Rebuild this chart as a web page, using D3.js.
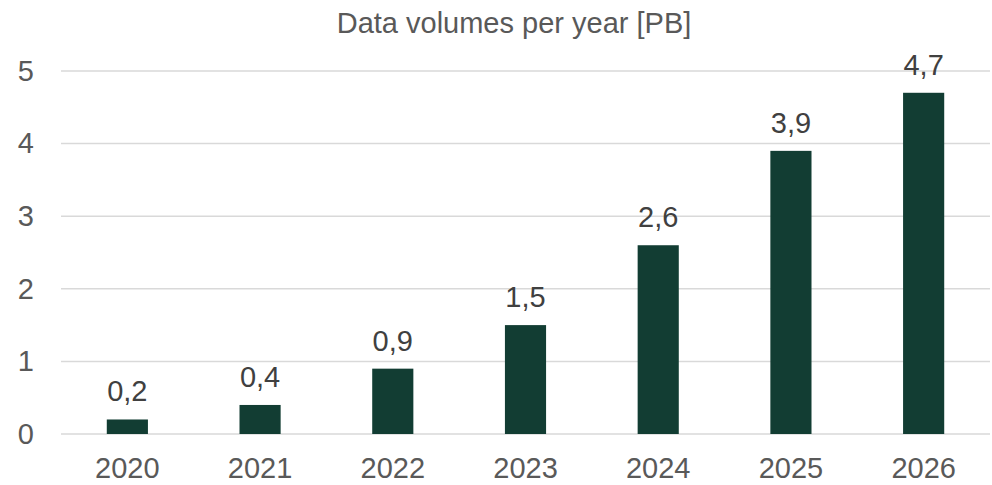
<!DOCTYPE html>
<html>
<head>
<meta charset="utf-8">
<script src="https://cdn.jsdelivr.net/npm/d3@7"></script>
<style>
  body { margin: 0; background: #fff; }
  text { font-family: "Liberation Sans", Arial, sans-serif; }
</style>
</head>
<body>
<div id="chart"></div>
<script>
// chart data
var years = ["2020", "2021", "2022", "2023", "2024", "2025", "2026"];
var volumes = [0.2, 0.4, 0.9, 1.5, 2.6, 3.9, 4.7];
var yTicks = [0, 1, 2, 3, 4, 5];
var title = "Data volumes per year [PB]";

var svgWidth = 992;
var svgHeight = 485;

// plot area
var margin = { top: 71, right: 2, bottom: 51, left: 61 };
var width = svgWidth - margin.left - margin.right;
var height = svgHeight - margin.top - margin.bottom;

var svg = d3.select("#chart")
  .append("svg")
  .attr("width", svgWidth)
  .attr("height", svgHeight);

var chartGroup = svg.append("g")
  .attr("transform", `translate(${margin.left}, ${margin.top})`);

var data = years.map((y, i) => ({ year: y, value: volumes[i] }));

var xScale = d3.scaleBand()
  .domain(years)
  .range([0, width])
  .paddingInner(0.69)
  .paddingOuter(0.345);

var yScale = d3.scaleLinear()
  .domain([0, 5])
  .range([height, 0]);

// gridlines
chartGroup.selectAll(".grid")
  .data(yTicks)
  .enter()
  .append("line")
  .attr("class", "grid")
  .attr("x1", 0)
  .attr("x2", width)
  .attr("y1", d => yScale(d))
  .attr("y2", d => yScale(d))
  .attr("stroke", "#d9d9d9")
  .attr("stroke-width", 1.5);

// y axis labels
var leftAxis = d3.axisLeft(yScale)
  .tickValues(yTicks)
  .tickFormat(d3.format("d"))
  .tickSize(0)
  .tickPadding(27);
var yAxis = chartGroup.append("g").call(leftAxis);
yAxis.select(".domain").remove();
yAxis.selectAll("text")
  .attr("font-family", "Liberation Sans, Arial, sans-serif")
  .attr("font-size", 29)
  .attr("fill", "#595959");

// x axis labels
var bottomAxis = d3.axisBottom(xScale).tickSize(0).tickPadding(23);
var xAxis = chartGroup.append("g")
  .attr("transform", `translate(0, ${height})`)
  .call(bottomAxis);
xAxis.select(".domain").remove();
xAxis.selectAll("text")
  .attr("font-family", "Liberation Sans, Arial, sans-serif")
  .attr("font-size", 29)
  .attr("fill", "#595959");

// bars
chartGroup.selectAll(".bar")
  .data(data)
  .enter()
  .append("rect")
  .attr("class", "bar")
  .attr("x", d => xScale(d.year))
  .attr("y", d => yScale(d.value))
  .attr("width", xScale.bandwidth())
  .attr("height", d => height - yScale(d.value))
  .attr("fill", "#123d33");

// value labels
chartGroup.selectAll(".val")
  .data(data)
  .enter()
  .append("text")
  .attr("class", "val")
  .attr("x", d => xScale(d.year) + xScale.bandwidth() / 2)
  .attr("y", d => yScale(d.value) - 18)
  .attr("text-anchor", "middle")
  .attr("font-size", 29)
  .attr("fill", "#404040")
  .text(d => d3.format(".1f")(d.value).replace(".", ","));

// title
svg.append("text")
  .attr("x", 514)
  .attr("y", 33)
  .attr("text-anchor", "middle")
  .attr("font-size", 29)
  .attr("fill", "#595959")
  .text(title);
</script>
</body>
</html>
